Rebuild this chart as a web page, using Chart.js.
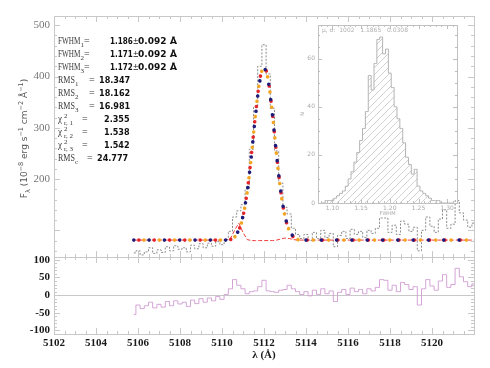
<!DOCTYPE html>
<html lang="en">
<head>
<meta charset="UTF-8">
<title>Line profile fit</title>
<script src="https://cdn.jsdelivr.net/npm/chart.js"></script>
<style>
  body { margin: 0; background: #fff; }
  #wrap { position: relative; width: 490px; height: 368px; }
  #main { position: absolute; left: 0; top: 0; }
  #inset { position: absolute; left: 290px; top: 12px; }
</style>
</head>
<body>
<div id="wrap">
  <canvas id="main" width="490" height="368"></canvas>
  <canvas id="inset" width="180" height="215"></canvas>
</div>
<script>
// wavelength grid (Angstrom)
const wave = [5105.8, 5106.0, 5106.2, 5106.4, 5106.6, 5106.8, 5107.0, 5107.2, 5107.4, 5107.6,
  5107.8, 5108.0, 5108.2, 5108.4, 5108.6, 5108.8, 5109.0, 5109.2, 5109.4, 5109.6,
  5109.8, 5110.0, 5110.2, 5110.4, 5110.6, 5110.8, 5111.0, 5111.2, 5111.4, 5111.6,
  5111.8, 5112.0, 5112.2, 5112.4, 5112.6, 5112.8, 5113.0, 5113.2, 5113.4, 5113.6,
  5113.8, 5114.0, 5114.2, 5114.4, 5114.6, 5114.8, 5115.0, 5115.2, 5115.4, 5115.6,
  5115.8, 5116.0, 5116.2, 5116.4, 5116.6, 5116.8, 5117.0, 5117.2, 5117.4, 5117.6,
  5117.8, 5118.0, 5118.2, 5118.4, 5118.6, 5118.8, 5119.0, 5119.2, 5119.4, 5119.6,
  5119.8, 5120.0, 5120.2, 5120.4, 5120.6, 5120.8, 5121.0, 5121.2, 5121.4, 5121.6,
  5121.8, 5122.0];

// observed flux
const flux = [56, 60, 52, 58, 66, 55, 62, 57, 68, 60, 70, 63, 66, 58, 71, 64, 74, 66, 75, 69,
  78, 72, 82, 98, 126, 138, 150, 180, 258, 340, 420, 462, 405, 338, 255, 192, 145, 132, 104, 92,
  84, 92, 80, 96, 84, 100, 86, 94, 68, 90, 98, 84, 102, 92, 98, 86, 100, 94, 104, 124,
  124, 96, 110, 92, 118, 112, 98, 106, 60, 100, 126, 108, 96, 122, 140, 104, 112, 158, 134, 120,
  106, 114];

// three gaussian fits
const fit1 = [81, 81, 81, 81, 81, 81, 81, 81, 81, 81, 81, 81, 81, 81, 81, 81, 81, 81, 81, 81,
  81, 81, 81, 83, 88, 101, 128, 176, 246, 326, 391, 416, 391, 326, 246, 176, 128, 101, 88, 83,
  81, 81, 81, 81, 81, 81, 81, 81, 81, 81, 81, 81, 81, 81, 81, 81, 81, 81, 81, 81,
  81, 81, 81, 81, 81, 81, 81, 81, 81, 81, 81, 81, 81, 81, 81, 81, 81, 81, 81, 81, 81, 81];
const fit2 = [81, 81, 81, 81, 81, 81, 81, 81, 81, 81, 81, 81, 81, 81, 81, 81, 81, 81, 81, 81,
  81, 81, 81, 82, 87, 100, 127, 176, 247, 328, 394, 419, 394, 328, 247, 176, 127, 100, 87, 82,
  81, 81, 81, 81, 81, 81, 81, 81, 81, 81, 81, 81, 81, 81, 81, 81, 81, 81, 81, 81,
  81, 81, 81, 81, 81, 81, 81, 81, 81, 81, 81, 81, 81, 81, 81, 81, 81, 81, 81, 81, 81, 81];
const fit3 = [81, 81, 81, 81, 81, 81, 81, 81, 81, 81, 81, 81, 81, 81, 81, 81, 81, 81, 81, 81,
  81, 81, 81, 82, 87, 100, 127, 175, 246, 328, 393, 418, 393, 328, 246, 175, 127, 100, 87, 82,
  81, 81, 81, 81, 81, 81, 81, 81, 81, 81, 81, 81, 81, 81, 81, 81, 81, 81, 81, 81,
  81, 81, 81, 81, 81, 81, 81, 81, 81, 81, 81, 81, 81, 81, 81, 81, 81, 81, 81, 81, 81, 81];

// thin red component
const comp = [81, 81, 81, 81, 81, 81, 81, 81, 81, 81, 81, 81, 81, 81, 81, 81, 81, 81, 81, 81,
  81, 81, 81, 84, 100, 114, 96, 82, 80, 80, 80, 80, 80, 80, 81, 83, 85, 84, 82, 81,
  81, 81, 81, 81, 81, 81, 81, 81, 81, 81, 81, 81, 81, 81, 81, 81, 81, 81, 81, 81,
  81, 81, 81, 81, 81, 81, 81, 81, 81, 81, 81, 81, 81, 81, 81, 81, 81, 81, 81, 81, 81, 81];

// residuals
const resid = [-55, -28, -38, -30, -20, -36, -26, -34, -18, -30, -16, -25, -20, -32, -14, -24, -10, -20, -8, -16,
  -4, -12, 2, 18, 44, 28, 18, 4, 10, 12, 24, 42, 12, 10, 8, 14, 16, 28, 18, 10,
  2, 10, -2, 14, 2, 18, 4, 12, -18, 8, 16, 2, 20, 10, 16, 4, 18, 12, 22, 44,
  42, 14, 28, 10, 36, 30, 16, 24, -28, 18, 44, 26, 14, 40, 58, 22, 30, 76, 52, 38,
  24, 32];

const xTicks = [5102, 5104, 5106, 5108, 5110, 5112, 5114, 5116, 5118, 5120];
const upperTicks = [200, 300, 400, 500];
const lowerTicks = [-100, -50, 0, 50, 100];

// fit statistics
const fwhmVals = ['1.186', '1.171', '1.172'];
const fwhmErr = ['0.092', '0.092', '0.092'];
const rmsVals = ['18.347', '18.162', '16.981'];
const chiVals = ['2.355', '1.538', '1.542'];
const rmsCont = '24.777';

// inset histogram of FWHM
const binC = [1.080, 1.085, 1.090, 1.095, 1.100, 1.105, 1.110, 1.115, 1.120, 1.125,
  1.130, 1.135, 1.140, 1.145, 1.150, 1.155, 1.160, 1.165, 1.170, 1.175,
  1.180, 1.185, 1.190, 1.195, 1.200, 1.205, 1.210, 1.215, 1.220, 1.225,
  1.230, 1.235, 1.240, 1.245, 1.250, 1.255, 1.260, 1.265, 1.270, 1.275,
  1.280, 1.285, 1.290, 1.295, 1.300, 1.305, 1.310];
const counts = [0, 0, 1, 1, 1, 2, 3, 4, 5, 7, 10, 13, 17, 21, 26, 31, 38, 53, 47, 58,
  68, 69, 62, 64, 54, 48, 40, 35, 31, 25, 19, 16, 12, 14, 7, 5, 4, 3, 2, 1,
  1, 1, 0, 0, 0, 0, 0];
const insetXTicks = [1.10, 1.15, 1.20, 1.25, 1.30];
const insetYTicks = [0, 20, 40, 60];
const insetLabel = '\u03bc, \u03c3:  1002   1.1865   0.0308';

const pts = arr => wave.map((w, i) => ({ x: w, y: arr[i] }));
const frameColor = '#c8c8c8';

// draw a run of text pieces: [text, font, dy, xscale]
function drawParts(ctx, x, y, parts) {
  let cx = x;
  parts.forEach(p => {
    const sx = p[3] || 1;
    ctx.font = p[1];
    ctx.save();
    ctx.translate(cx, y + (p[2] || 0));
    ctx.scale(sx, 1);
    ctx.fillText(p[0], 0, 0);
    ctx.restore();
    cx += ctx.measureText(p[0]).width * sx;
  });
  return cx - x;
}

function tickMarks(ctx, s, vals, len, horiz, a, b) {
  vals.forEach(v => {
    const p = Math.round(s.getPixelForValue(v)) + 0.5;
    ctx.beginPath();
    if (horiz) {
      ctx.moveTo(p, a); ctx.lineTo(p, a - len);
      ctx.moveTo(p, b); ctx.lineTo(p, b + len);
    } else {
      ctx.moveTo(a, p); ctx.lineTo(a + len, p);
      ctx.moveTo(b, p); ctx.lineTo(b - len, p);
    }
    ctx.stroke();
  });
}

function steps(from, to, step) {
  const out = [];
  for (let v = from; v <= to + 1e-9; v += step) out.push(+v.toFixed(4));
  return out;
}

const framePlugin = {
  id: 'frame',
  beforeDatasetsDraw(chart) {
    const { ctx, scales: { x, y, y2 } } = chart;
    ctx.save();
    ctx.strokeStyle = frameColor;
    ctx.lineWidth = 1;
    // zero line of residual panel
    const z = Math.round(y2.getPixelForValue(0)) + 0.5;
    ctx.beginPath(); ctx.moveTo(x.left, z); ctx.lineTo(x.right, z); ctx.stroke();
    [[y, 100, 20], [y2, 50, 10]].forEach(([s, maj, mnr]) => {
      ctx.strokeRect(Math.round(x.left) + 0.5, Math.round(s.top) + 0.5,
        Math.round(x.right - x.left), Math.round(s.bottom - s.top));
      tickMarks(ctx, x, steps(5102, 5122, 2), 6, true, s.bottom, s.top);
      tickMarks(ctx, x, steps(5102, 5122, 0.5), 3, true, s.bottom, s.top);
      const lo = Math.ceil(s.min / mnr) * mnr;
      tickMarks(ctx, s, steps(Math.ceil(s.min / maj) * maj, s.max, maj), 6, false, x.left, x.right);
      tickMarks(ctx, s, steps(lo, s.max, mnr), 3, false, x.left, x.right);
    });
    ctx.restore();
  },
  afterDraw(chart) {
    const { ctx, scales: { y } } = chart;
    ctx.save();
    ctx.textBaseline = 'alphabetic';
    const LBL = "10px 'Liberation Serif'";
    const SUB = "7px 'Liberation Serif'";
    const NUM = "bold 9px 'DejaVu Sans'";
    const BIG = "bold 9.5px 'DejaVu Sans'";
    const dy = 13.05;
    let yy = 44;
    fwhmVals.forEach((v, i) => {
      ctx.fillStyle = '#3a3a3a';
      drawParts(ctx, 58, yy, [['FWHM', LBL, 0, 0.72], [String(i + 1), SUB, 3]]);
      drawParts(ctx, 84, yy, [['=', LBL]]);
      ctx.fillStyle = '#111';
      drawParts(ctx, 110, yy, [[v, NUM, 0, 0.8], ['\u00b1', "9px 'DejaVu Sans'", 0, 0.8]]);
      drawParts(ctx, 138, yy, [[fwhmErr[i], BIG, 0, 0.95], [' \u00c5', BIG]]);
      yy += dy;
    });
    rmsVals.forEach((v, i) => {
      ctx.fillStyle = '#3a3a3a';
      drawParts(ctx, 58, yy, [['RMS', LBL, 0, 0.8], [String(i + 1), SUB, 3]]);
      drawParts(ctx, 89, yy, [['=', LBL]]);
      ctx.fillStyle = '#111';
      drawParts(ctx, 99, yy, [[v, NUM, 0, 0.9]]);
      yy += dy;
    });
    chiVals.forEach((v, i) => {
      ctx.fillStyle = '#3a3a3a';
      drawParts(ctx, 58, yy, [['\u03c7', LBL, 0, 0.9]]);
      drawParts(ctx, 64, yy, [['2', SUB, -4]]);
      drawParts(ctx, 64, yy, [['r, ' + (i + 1), SUB, 3]]);
      drawParts(ctx, 82, yy, [['=', LBL]]);
      ctx.fillStyle = '#111';
      drawParts(ctx, 104, yy, [[v, NUM, 0, 0.9]]);
      yy += dy;
    });
    ctx.fillStyle = '#3a3a3a';
    drawParts(ctx, 58, yy, [['RMS', LBL, 0, 0.8], ['c', SUB, 3]]);
    drawParts(ctx, 87, yy, [['=', LBL]]);
    ctx.fillStyle = '#111';
    drawParts(ctx, 97, yy, [[rmsCont, NUM, 0, 0.9]]);

    // y axis title of upper panel
    const T = "9px 'DejaVu Sans'";
    const TS = "6.5px 'DejaVu Sans'";
    const title = [['F', T], ['\u03bb', TS, 3], [' (10', T], ['\u22128', TS, -4], [' erg s', T], ['\u22121', TS, -4],
      [' cm', T], ['\u22122', TS, -4], [' \u00c5', T], ['\u22121', TS, -4], [')', T]];
    ctx.save();
    ctx.translate(23, (y.top + y.bottom) / 2 + 2);
    ctx.rotate(-Math.PI / 2);
    ctx.globalAlpha = 0;
    const w = drawParts(ctx, 0, 0, title);
    ctx.globalAlpha = 1;
    ctx.fillStyle = '#555';
    drawParts(ctx, -w / 2, 4, title);
    ctx.restore();
    ctx.restore();
  }
};

const fitColors = ['#1e1a7a', '#e3262b', '#f3a523'];
const fitSets = [fit1, fit2, fit3].map((f, i) => ({
  data: pts(f), yAxisID: 'y', borderColor: fitColors[i], borderWidth: 3.6,
  borderCapStyle: 'round', borderDash: [0.01, 15.3], borderDashOffset: -5.1 * i,
  cubicInterpolationMode: 'monotone', pointRadius: 0, order: 1 + i
}));

const noGrid = { display: false, drawTicks: false, tickLength: 0 };

new Chart(document.getElementById('main'), {
  type: 'line',
  data: {
    datasets: fitSets.concat([
      { data: pts(comp), yAxisID: 'y', borderColor: '#f03c3c', borderWidth: 1, borderDash: [4, 2],
        pointRadius: 0, order: 5 },
      { data: pts(flux), yAxisID: 'y', borderColor: '#8c8c8c', borderWidth: 1, borderDash: [2, 1.5],
        stepped: 'middle', pointRadius: 0, order: 6 },
      { data: pts(resid), yAxisID: 'y2', borderColor: '#d4a4d6', borderWidth: 1,
        stepped: 'middle', pointRadius: 0, order: 7 }
    ])
  },
  options: {
    responsive: false,
    animation: false,
    events: [],
    layout: { padding: { left: 0, right: 16, top: 16, bottom: 6 } },
    plugins: { legend: { display: false }, tooltip: { enabled: false } },
    scales: {
      x: {
        type: 'linear', min: 5102, max: 5122,
        afterBuildTicks: s => { s.ticks = xTicks.map(v => ({ value: v })); },
        afterFit: s => { s.height = 28; },
        ticks: { callback: v => String(v), color: '#1a1a1a', padding: 3, maxRotation: 0, autoSkip: false,
          font: { family: "'Liberation Serif'", size: 11, weight: 'bold' } },
        grid: noGrid, border: { display: false },
        title: { display: true, text: '\u03bb (\u00c5)', color: '#1a1a1a', padding: 0,
          font: { family: "'Liberation Serif'", size: 11, weight: 'bold' } }
      },
      y2: {
        type: 'linear', position: 'left', stack: 'panel', stackWeight: 77,
        min: -110, max: 108,
        afterBuildTicks: s => { s.ticks = lowerTicks.map(v => ({ value: v })); },
        afterFit: s => { s.width = 54; },
        ticks: { callback: v => String(v), color: '#1a1a1a', padding: 4, autoSkip: false,
          font: { family: "'Liberation Serif'", size: 11, weight: 'bold' } },
        grid: noGrid, border: { display: false }
      },
      y: {
        type: 'linear', position: 'left', stack: 'panel', stackWeight: 241,
        min: 48, max: 518,
        afterBuildTicks: s => { s.ticks = upperTicks.map(v => ({ value: v })); },
        afterFit: s => { s.width = 54; },
        ticks: { callback: v => String(v), color: '#777', padding: 4, autoSkip: false,
          font: { family: "'Liberation Serif'", size: 11 } },
        grid: noGrid, border: { display: false }
      }
    }
  },
  plugins: [framePlugin]
});

// inset: histogram of FWHM values
const insetCanvas = document.getElementById('inset');
const hatchTile = document.createElement('canvas');
hatchTile.width = hatchTile.height = 7;
const hg = hatchTile.getContext('2d');
hg.strokeStyle = '#c4c4c4';
hg.lineWidth = 0.8;
hg.beginPath();
hg.moveTo(0, 7); hg.lineTo(7, 0);
hg.moveTo(-1, 1); hg.lineTo(1, -1);
hg.moveTo(6, 8); hg.lineTo(8, 6);
hg.stroke();
const hatch = insetCanvas.getContext('2d').createPattern(hatchTile, 'repeat');

const insetFrame = {
  id: 'insetFrame',
  beforeDatasetsDraw(chart) {
    const { ctx, chartArea: a, scales: { x, y } } = chart;
    ctx.save();
    ctx.strokeStyle = '#c0c0c0';
    ctx.lineWidth = 1;
    ctx.strokeRect(Math.round(a.left) + 0.5, Math.round(a.top) + 0.5,
      Math.round(a.right - a.left), Math.round(a.bottom - a.top));
    tickMarks(ctx, x, insetXTicks, 4, true, a.bottom, a.top);
    tickMarks(ctx, x, steps(1.08, 1.31, 0.01), 2, true, a.bottom, a.top);
    tickMarks(ctx, y, insetYTicks, 4, false, a.left, a.right);
    tickMarks(ctx, y, steps(0, 70, 5), 2, false, a.left, a.right);
    ctx.fillStyle = '#b0b0b0';
    ctx.font = "6px 'DejaVu Sans'";
    ctx.fillText(insetLabel, a.left + 4, a.top + 7);
    ctx.restore();
  }
};

new Chart(insetCanvas, {
  type: 'line',
  data: {
    datasets: [{
      data: binC.map((b, i) => ({ x: b, y: counts[i] })),
      stepped: 'middle', fill: 'origin', backgroundColor: hatch,
      borderColor: '#b4b4b4', borderWidth: 1, pointRadius: 0
    }]
  },
  options: {
    responsive: false,
    animation: false,
    events: [],
    layout: { padding: { left: 0, right: 13, top: 13, bottom: 10 } },
    plugins: { legend: { display: false }, tooltip: { enabled: false } },
    scales: {
      x: {
        type: 'linear', min: 1.075, max: 1.317,
        afterBuildTicks: s => { s.ticks = insetXTicks.map(v => ({ value: v })); },
        afterFit: s => { s.height = 14; },
        ticks: { callback: v => v.toFixed(2), color: '#aaa', padding: 2, maxRotation: 0, autoSkip: false,
          font: { family: "'DejaVu Sans'", size: 6 } },
        grid: noGrid, border: { display: false },
        title: { display: true, text: 'FWHM', color: '#aaa', padding: 0,
          font: { family: "'DejaVu Sans'", size: 5 } }
      },
      y: {
        type: 'linear', min: 0, max: 74,
        afterBuildTicks: s => { s.ticks = insetYTicks.map(v => ({ value: v })); },
        afterFit: s => { s.width = 28; },
        ticks: { callback: v => String(v), color: '#aaa', padding: 3, autoSkip: false,
          font: { family: "'DejaVu Sans'", size: 6 } },
        grid: noGrid, border: { display: false },
        title: { display: true, text: 'N', color: '#aaa', padding: { top: 10, bottom: 0 },
          font: { family: "'DejaVu Sans'", size: 5 } }
      }
    }
  },
  plugins: [insetFrame]
});
</script>
</body>
</html>
